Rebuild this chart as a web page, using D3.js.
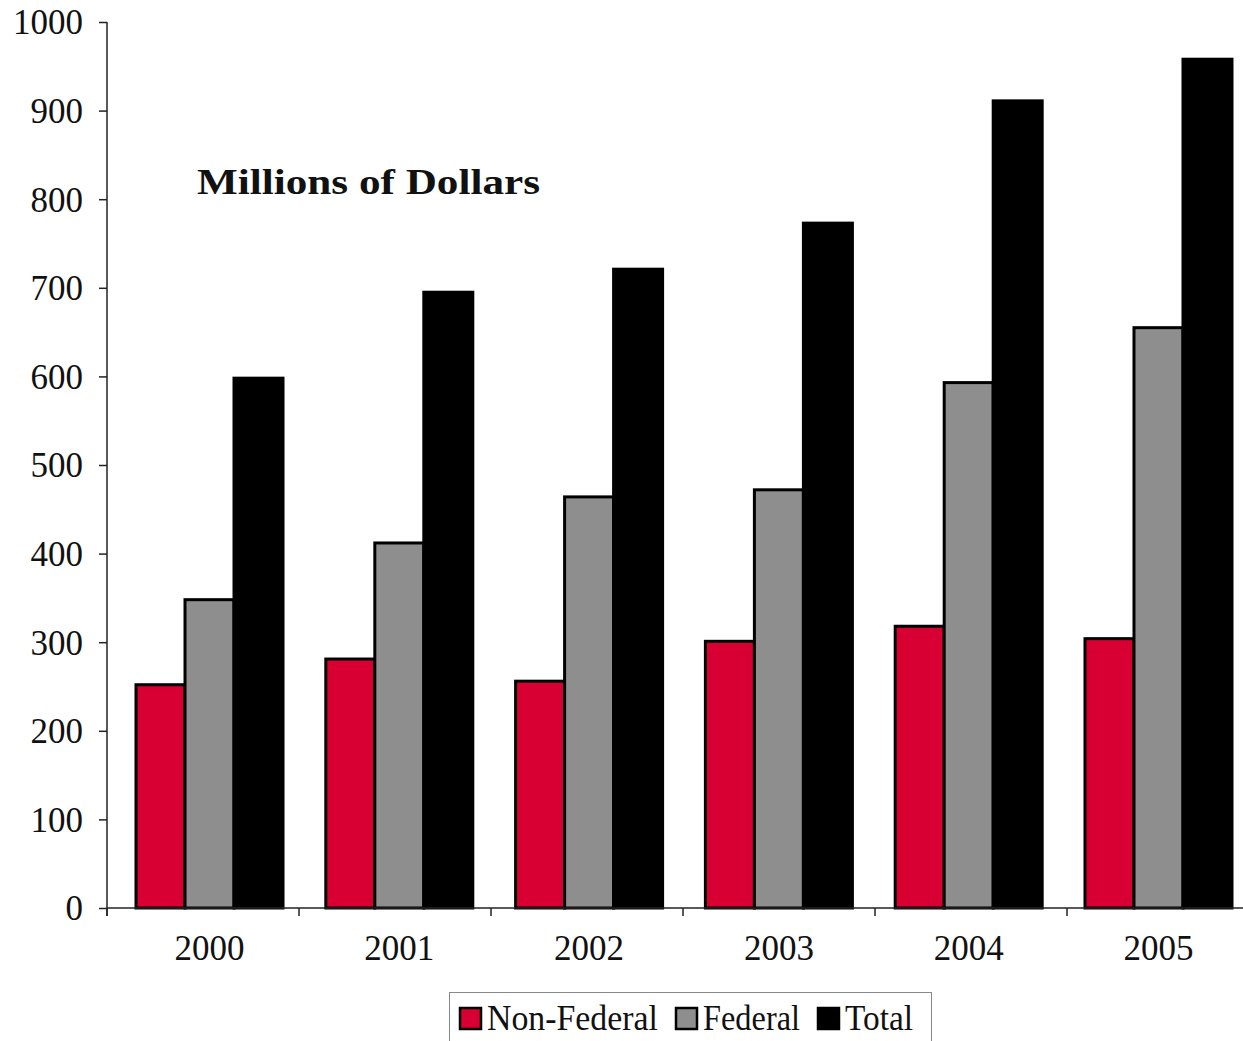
<!DOCTYPE html>
<html>
<head>
<meta charset="utf-8">
<script src="https://cdn.jsdelivr.net/npm/d3@7"></script>
<style>
  html, body { margin: 0; padding: 0; background: #ffffff; }
  svg { display: block; }
  text { font-family: "Liberation Serif", "DejaVu Serif", serif; fill: #111; }
</style>
</head>
<body>
<svg id="chart" width="1243" height="1041"></svg>
<script>
const years = ["2000", "2001", "2002", "2003", "2004", "2005"];
const seriesNames = ["Non-Federal", "Federal", "Total"];
const nonFederal = [252, 281, 256, 301, 318, 304];
const federal = [348, 412, 464, 472, 593, 655];
const total = [598, 695, 721, 773, 911, 958];
const yTicks = [0, 100, 200, 300, 400, 500, 600, 700, 800, 900, 1000];
const colors = ["#d80032", "#8e8e8e", "#000000"];
const titleText = "Millions of Dollars";

const series = [nonFederal, federal, total];
const svg = d3.select("#chart");

const y = d3.scaleLinear().domain([0, 1000]).range([908, 22]);
// category boundaries (axis tick marks)
const xAxisScale = d3.scaleBand().domain(years).range([107, 1259]).padding(0);
// bar-group placement
const xBars = d3.scaleBand().domain(years).range([114.6, 1253.4]).paddingInner(0.2255).paddingOuter(0.1128);
const xInner = d3.scaleBand().domain(seriesNames).range([0, xBars.bandwidth()]).padding(0);

// bars
series.forEach((vals, si) => {
  svg.append("g").selectAll("rect")
    .data(years.map((yr, i) => ({ yr, v: vals[i] })))
    .join("rect")
    .attr("x", d => xBars(d.yr) + xInner(seriesNames[si]))
    .attr("y", d => y(d.v))
    .attr("width", xInner.bandwidth())
    .attr("height", d => y(0) - y(d.v))
    .attr("fill", colors[si])
    .attr("stroke", "#000")
    .attr("stroke-width", 3);
});

// y axis
const yAxis = d3.axisLeft(y).tickValues(yTicks).tickSize(8).tickPadding(16).tickFormat(d3.format("d"));
const gy = svg.append("g").attr("transform", "translate(107,0)").call(yAxis);
gy.select(".domain").attr("stroke", "#222").attr("stroke-width", 1.5).attr("d", "M0,22V916");
gy.selectAll(".tick line").attr("stroke", "#222").attr("stroke-width", 1.5);
gy.selectAll(".tick text").attr("font-size", 35).attr("font-family", "Liberation Serif").attr("fill", "#111").attr("dy", "0.34em");

// x axis line and boundary ticks
svg.append("line").attr("x1", 107).attr("x2", 1243).attr("y1", y(0)).attr("y2", y(0))
  .attr("stroke", "#222").attr("stroke-width", 1.5);
svg.append("g").selectAll("line")
  .data(years)
  .join("line")
  .attr("x1", d => xAxisScale(d)).attr("x2", d => xAxisScale(d))
  .attr("y1", y(0)).attr("y2", y(0) + 8)
  .attr("stroke", "#222").attr("stroke-width", 1.5);

// year labels
svg.append("g").selectAll("text")
  .data(years)
  .join("text")
  .attr("x", d => xBars(d) + xBars.bandwidth() / 2)
  .attr("y", 960)
  .attr("text-anchor", "middle")
  .attr("font-size", 35)
  .text(d => d);

// title
svg.append("text")
  .attr("x", 197).attr("y", 194)
  .attr("font-size", 36)
  .attr("font-weight", "bold")
  .attr("textLength", 343)
  .attr("lengthAdjust", "spacingAndGlyphs")
  .text(titleText);

// legend
const legend = svg.append("g");
legend.append("rect").attr("x", 449.5).attr("y", 992.5).attr("width", 482).attr("height", 60)
  .attr("fill", "#fff").attr("stroke", "#888").attr("stroke-width", 1);
const legendItems = [
  { name: seriesNames[0], sx: 460, tx: 487, tw: 171 },
  { name: seriesNames[1], sx: 676, tx: 703, tw: 97 },
  { name: seriesNames[2], sx: 818, tx: 845, tw: 68 }
];
legendItems.forEach((it, i) => {
  legend.append("rect").attr("x", it.sx).attr("y", 1008).attr("width", 21).attr("height", 21)
    .attr("fill", colors[i]).attr("stroke", "#000").attr("stroke-width", 2.5);
  legend.append("text").attr("x", it.tx).attr("y", 1030)
    .attr("font-size", 35)
    .attr("textLength", it.tw).attr("lengthAdjust", "spacingAndGlyphs")
    .text(it.name);
});
</script>
</body>
</html>
